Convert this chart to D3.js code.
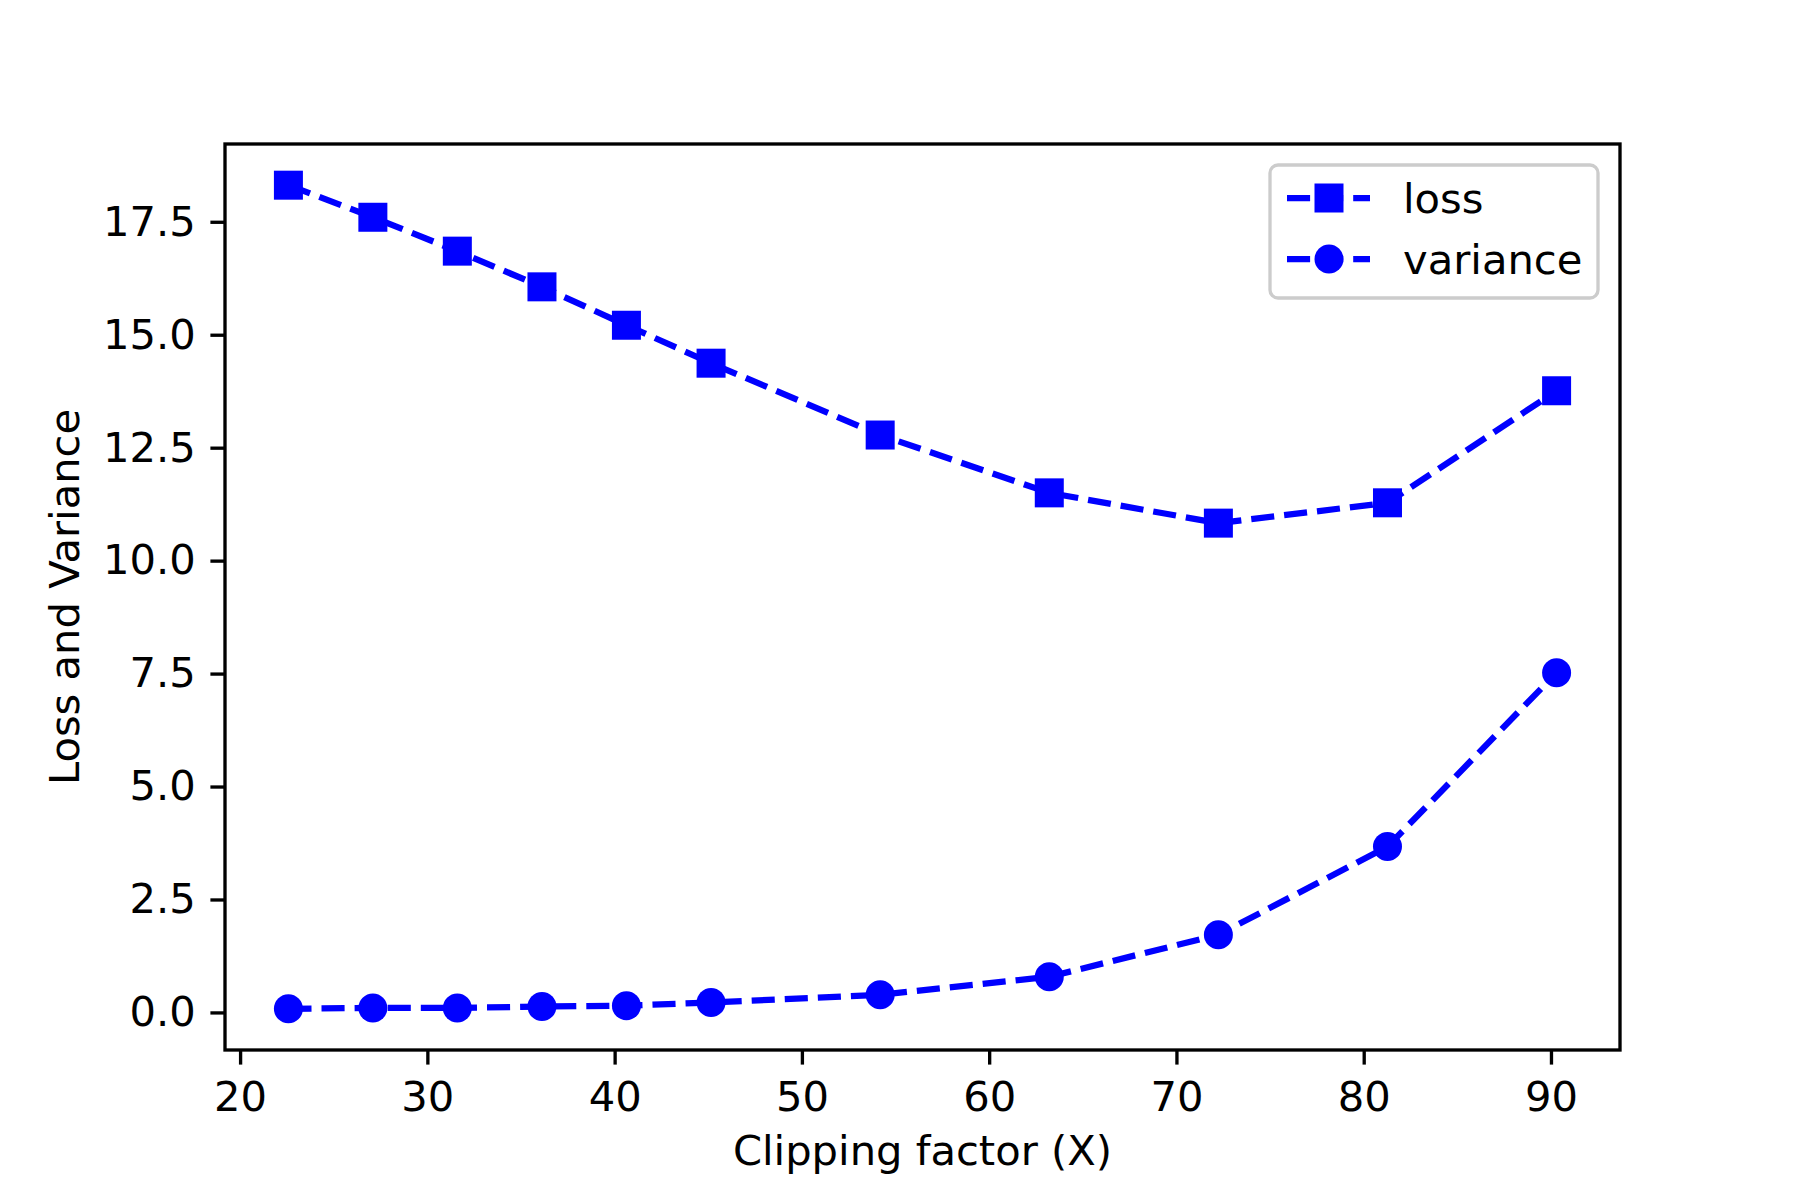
<!DOCTYPE html>
<html>
<head>
<meta charset="utf-8">
<script src="https://cdn.jsdelivr.net/npm/d3@7"></script>
<style>
  html, body { margin: 0; padding: 0; background: #fff; }
  svg { display: block; }
  text { font-family: "DejaVu Sans", sans-serif; fill: #000; }
</style>
</head>
<body>
<svg id="chart" width="1800" height="1200"></svg>
<script>
// ---- data ----
const clipFactor = [22.58, 27.09, 31.60, 36.12, 40.63, 45.15, 54.18, 63.21, 72.24, 81.27, 90.30];
const lossValues = [18.31, 17.60, 16.85, 16.06, 15.21, 14.37, 12.78, 11.50, 10.83, 11.28, 13.76];
const varianceValues = [0.08, 0.10, 0.10, 0.13, 0.15, 0.22, 0.39, 0.79, 1.72, 3.67, 7.52];
const xTicks = [20, 30, 40, 50, 60, 70, 80, 90];
const yTicks = [0, 2.5, 5, 7.5, 10, 12.5, 15, 17.5];
const seriesNames = ["loss", "variance"];
const xLabel = "Clipping factor (X)";
const yLabel = "Loss and Variance";

// ---- layout ----
const W = 1800, H = 1200;
const m = { left: 225, right: 1620, top: 144, bottom: 1050 };
const FS = 41.67;          // 10pt at 300dpi
const LW = 6.25;           // 1.5pt
const DASH = "23.1,10";
const SPINE = 3.33;
const TICK = 14.6;
const MS = 29;             // marker size
const BLUE = "#0000ff";

const svg = d3.select("#chart");

const allY = lossValues.concat(varianceValues);
const xMin = d3.min(clipFactor), xMax = d3.max(clipFactor);
const yMin = d3.min(allY), yMax = d3.max(allY);
const xPad = (xMax - xMin) * 0.05, yPad = (yMax - yMin) * 0.05;

const x = d3.scaleLinear().domain([xMin - xPad, xMax + xPad]).range([m.left, m.right]);
const y = d3.scaleLinear().domain([yMin - yPad, yMax + yPad]).range([m.bottom, m.top]);

// axes
const xAxis = d3.axisBottom(x).tickValues(xTicks).tickSize(TICK).tickPadding(14.6).tickFormat(d3.format("d"));
const yAxis = d3.axisLeft(y).tickValues(yTicks).tickSize(TICK).tickPadding(14.6).tickFormat(d3.format(".1f"));

const gx = svg.append("g").attr("transform", `translate(0,${m.bottom})`).call(xAxis);
const gy = svg.append("g").attr("transform", `translate(${m.left},0)`).call(yAxis);
[gx, gy].forEach(g => {
  g.select(".domain").remove();
  g.selectAll(".tick line").attr("stroke", "#000").attr("stroke-width", SPINE);
  g.selectAll(".tick text").style("font-size", FS + "px").style("font-family", "DejaVu Sans");
});
gx.selectAll(".tick text").attr("dy", "0.76em");

// series
const seriesData = [
  { name: seriesNames[0], values: lossValues, marker: "square" },
  { name: seriesNames[1], values: varianceValues, marker: "circle" }
];
const line = d3.line().x((d, i) => x(clipFactor[i])).y(d => y(d));

const plot = svg.append("g");
seriesData.forEach(s => {
  plot.append("path")
    .datum(s.values)
    .attr("d", line)
    .attr("fill", "none")
    .attr("stroke", BLUE)
    .attr("stroke-width", LW)
    .attr("stroke-dasharray", DASH);
  if (s.marker === "square") {
    plot.selectAll(null).data(s.values).enter().append("rect")
      .attr("x", (d, i) => x(clipFactor[i]) - MS / 2)
      .attr("y", d => y(d) - MS / 2)
      .attr("width", MS).attr("height", MS)
      .attr("fill", BLUE);
  } else {
    plot.selectAll(null).data(s.values).enter().append("circle")
      .attr("cx", (d, i) => x(clipFactor[i]))
      .attr("cy", d => y(d))
      .attr("r", MS / 2)
      .attr("fill", BLUE);
  }
});

// frame
svg.append("rect")
  .attr("x", m.left).attr("y", m.top)
  .attr("width", m.right - m.left).attr("height", m.bottom - m.top)
  .attr("fill", "none").attr("stroke", "#000").attr("stroke-width", SPINE);

// axis labels
svg.append("text")
  .attr("x", (m.left + m.right) / 2).attr("y", 1165)
  .attr("text-anchor", "middle").style("font-size", FS + "px")
  .text(xLabel);
svg.append("text")
  .attr("transform", `translate(79,${(m.top + m.bottom) / 2}) rotate(-90)`)
  .attr("text-anchor", "middle").style("font-size", FS + "px")
  .text(yLabel);

// legend
const lg = svg.append("g");
lg.append("rect")
  .attr("x", 1270).attr("y", 165).attr("width", 328).attr("height", 133)
  .attr("rx", 8).attr("ry", 8)
  .attr("fill", "#fff").attr("fill-opacity", 0.8)
  .attr("stroke", "#cccccc").attr("stroke-width", 3.33);
seriesData.forEach((s, i) => {
  const cy = 198 + i * 61;
  lg.append("line")
    .attr("x1", 1287).attr("x2", 1370).attr("y1", cy).attr("y2", cy)
    .attr("stroke", BLUE).attr("stroke-width", LW).attr("stroke-dasharray", DASH);
  if (s.marker === "square") {
    lg.append("rect").attr("x", 1329 - MS / 2).attr("y", cy - MS / 2)
      .attr("width", MS).attr("height", MS).attr("fill", BLUE);
  } else {
    lg.append("circle").attr("cx", 1329).attr("cy", cy).attr("r", MS / 2).attr("fill", BLUE);
  }
  lg.append("text")
    .attr("x", 1403).attr("y", cy + 15)
    .style("font-size", FS + "px")
    .text(s.name);
});
</script>
</body>
</html>
